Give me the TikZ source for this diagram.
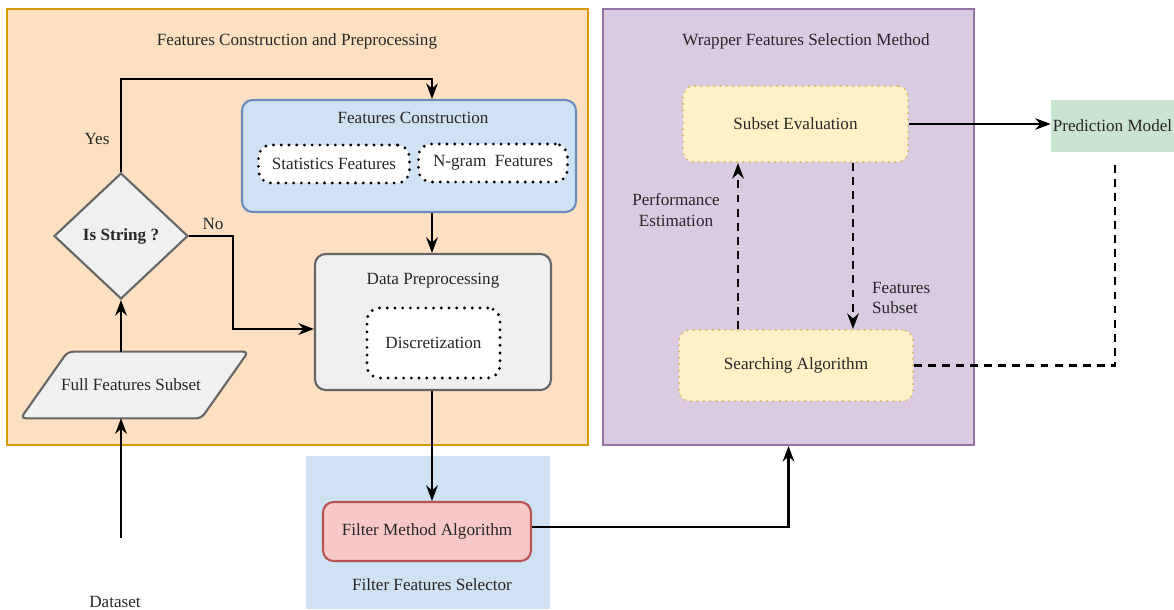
\documentclass[tikz,border=0pt]{standalone}
\usepackage{fontspec}
\setmainfont{Liberation Serif}
\usepackage{tikz}
\usetikzlibrary{positioning, arrows.meta, calc, shapes.geometric}
\definecolor{peach}{HTML}{FDE0C2}
\definecolor{peachline}{HTML}{D79B00}
\definecolor{lilac}{HTML}{DACBE2}
\definecolor{lilacline}{HTML}{9673A6}
\definecolor{skyfill}{HTML}{CFE2F3}
\definecolor{skyline}{HTML}{6C8EBF}
\definecolor{greyfill}{HTML}{F0F0F0}
\definecolor{greyline}{HTML}{666666}
\definecolor{creamfill}{HTML}{FEF0C7}
\definecolor{creamline}{HTML}{D6B656}
\definecolor{rosefill}{HTML}{F8C8C6}
\definecolor{roseline}{HTML}{B85450}
\definecolor{mintfill}{HTML}{C9E4CF}
\tikzset{
  txt/.style={font=\fontsize{9.75}{11.75}\selectfont, text=black!85},
  panel/.style={
    txt,
    draw, line width=1.2pt,
    inner sep=0pt
  },
  roundbox/.style={
    txt,
    draw, line width=1.2pt,
    rounded corners=6pt,
    align=center
  },
  dotbox/.style={
    txt,
    draw=black, fill=white,
    line width=1.8pt, line cap=round,
    dash pattern=on 0pt off 4.4pt,
    rounded corners=7pt,
    align=center
  },
  flow/.style={
    -Stealth,
    line width=1.3pt
  },
  dflow/.style={
    flow,
    dash pattern=on 4.5pt off 3.5pt
  }
}

\begin{document}
\begin{tikzpicture}[x=0.02cm, y=-0.02cm]
  \useasboundingbox (0,0) rectangle (1174,609);

  % containers
  \node[panel, fill=peach, draw=peachline, minimum width=11.62cm, minimum height=8.72cm] (prep) at (297.5,227) {};
  \node[txt] (preptitle) at (297,41) {Features Construction and Preprocessing};
  \node[panel, fill=lilac, draw=lilacline, minimum width=7.42cm, minimum height=8.72cm] (wrap) at (788.5,227) {};
  \node[txt] (wraptitle) at (806,41) {Wrapper Features Selection Method};
  \node[panel, draw=none, fill=skyfill, minimum width=4.88cm, minimum height=3.06cm] (filtzone) at (428,532.5) {};
  \node[txt] (filttitle) at (432,585) {Filter Features Selector};

  % left part
  \node[roundbox, fill=skyfill, draw=skyline, minimum width=6.68cm, minimum height=2.24cm] (fc) at (409,156) {};
  \node[txt] (fctitle) at (413,118) {Features Construction};
  \node[dotbox, minimum width=3.02cm, minimum height=0.76cm] (stat) at (334,164) {Statistics Features};
  \node[dotbox, minimum width=2.98cm, minimum height=0.76cm] (ngram) at (493,163) {N-gram\ \ Features};

  \node[roundbox, fill=greyfill, draw=greyline, minimum width=4.72cm, minimum height=2.72cm] (dp) at (433,322) {};
  \node[txt] (dptitle) at (433,281) {Data Preprocessing};
  \node[dotbox, minimum width=2.66cm, minimum height=1.4cm] (disc) at (433.5,343) {Discretization};

  \node[txt, diamond, draw=greyline, fill=greyfill, line width=1.2pt, inner sep=0pt,
        minimum width=2.68cm, minimum height=2.52cm, font=\fontsize{9.75}{11.75}\selectfont\bfseries] (isstr) at (121,236) {Is String ?};
  \node[minimum width=4.54cm, minimum height=1.32cm, inner sep=0pt] (full) at (134.5,385) {};
  \draw[draw=greyline, fill=greyfill, line width=1.2pt, rounded corners=3pt]
    (full.south west) -- ([xshift=0.94cm]full.north west) -- (full.north east)
    -- ([xshift=-0.94cm]full.south east) -- cycle;
  \node[txt] (fulltext) at (131,385) {Full Features Subset};
  \node[txt] (data) at (115,602) {Dataset};
  \coordinate (datatop) at (121,538);

  \node[roundbox, fill=rosefill, draw=roseline, minimum width=4.16cm, minimum height=1.18cm] (filt) at (427,531.5) {Filter Method Algorithm};

  % right part
  \node[roundbox, fill=creamfill, draw=creamline, line cap=round, dash pattern=on 0pt off 3.6pt,
        minimum width=4.5cm, minimum height=1.52cm] (se) at (795.5,124) {Subset Evaluation};
  \node[roundbox, fill=creamfill, draw=creamline, line cap=round, dash pattern=on 0pt off 3.6pt,
        minimum width=4.68cm, minimum height=1.42cm] (sa) at (796,365.5) {Searching Algorithm};
  \node[txt, fill=mintfill, minimum width=2.46cm, minimum height=1.04cm, inner sep=0pt] (pm) at (1112.5,126) {Prediction Model};

  % connectors
  \draw[flow] (datatop) -- (full.south -| datatop);
  \draw[flow] (full.north -| isstr.south) -- (isstr.south);
  \draw[flow] (isstr.north) -- (121,79) -| (fc.north -| 432,0);
  \node[txt] (yes) at (97,139) {Yes};
  \draw[flow] (isstr.east) -- (233,236) |- (dp.west |- 0,329);
  \node[txt] (no) at (213,224) {No};
  \draw[flow] (fc.south -| 432,0) -- (dp.north -| 432,0);
  \draw[flow] (dp.south -| 432,0) -- (filt.north -| 432,0);
  \draw[flow] (filt.east |- 0,527) -| (wrap.south);

  \draw[flow] (se.east) -- (pm.west |- se.east);
  \draw[dflow] (sa.north -| 738,0) -- (se.south -| 738,0);
  \node[txt, align=center] (perf) at (676,210) {Performance\\Estimation};
  \draw[dflow] (se.south -| 853,0) -- (sa.north -| 853,0);
  \node[txt, align=left, anchor=west] (fsub) at (866,298) {Features\\Subset};
  \draw[line width=1.3pt, dash pattern=on 4.5pt off 3.5pt] (sa.east) -| (1115,160);
\end{tikzpicture}
\end{document}
